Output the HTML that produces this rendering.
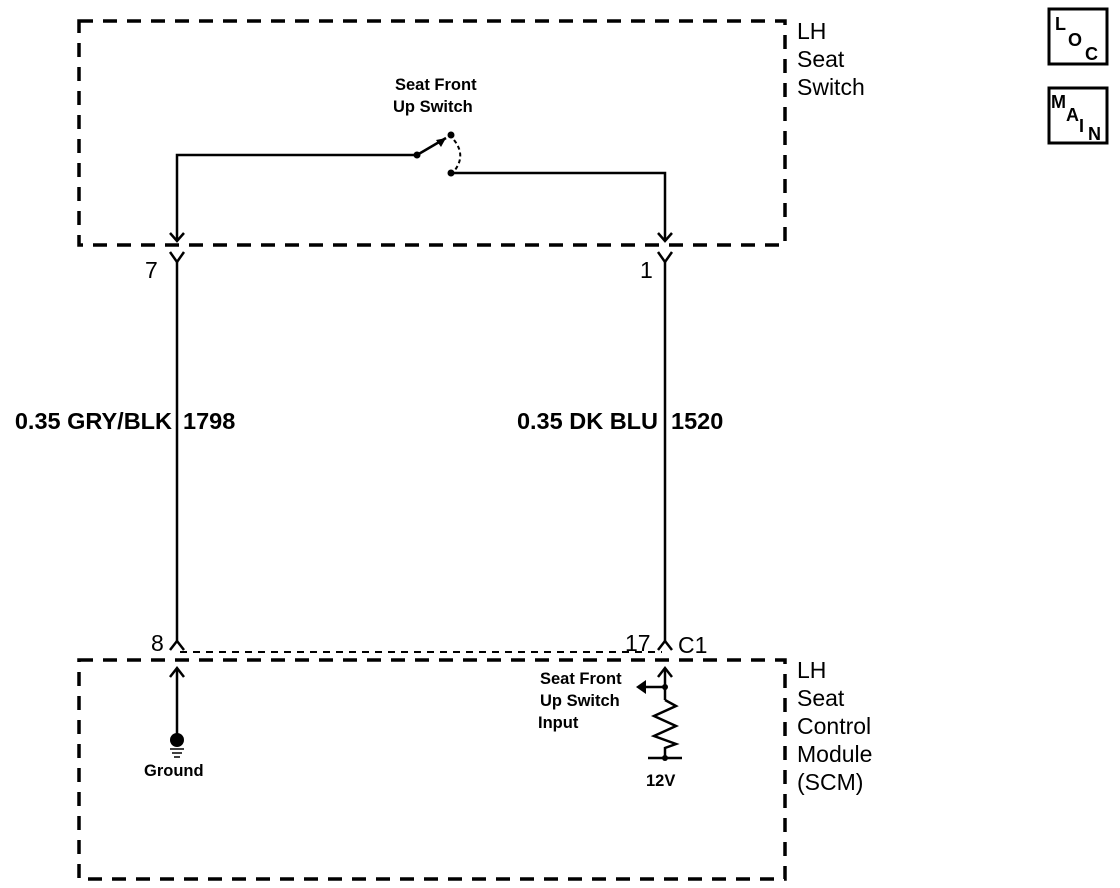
<!DOCTYPE html>
<html><head><meta charset="utf-8"><style>
html,body{margin:0;padding:0;background:#fff;}
svg{display:block;}
text{font-family:"Liberation Sans",Arial,sans-serif;fill:#000;}
</style></head><body>
<svg width="1120" height="888" viewBox="0 0 1120 888" xmlns="http://www.w3.org/2000/svg">
<g fill="none" stroke="#000">
<rect x="79" y="21" width="706" height="224" stroke-width="3.5" stroke-dasharray="14,10"/>
<rect x="79" y="660" width="706" height="219" stroke-width="3.5" stroke-dasharray="14,10"/>
<line x1="180" y1="652" x2="662" y2="652" stroke-width="2" stroke-dasharray="7,6"/>
<polyline points="177,240 177,155 417,155" stroke-width="2.5"/>
<line x1="417" y1="155" x2="446" y2="138" stroke-width="2.5"/>
<path d="M454,140 Q466,155 455,170" stroke-width="2" stroke-dasharray="4,3"/>
<polyline points="451,173 665,173 665,240" stroke-width="2.5"/>
<polyline points="170,233 177,241 184,233" stroke-width="2.5"/>
<polyline points="658,233 665,241 672,233" stroke-width="2.5"/>
<polyline points="170,252 177,262 184,252" stroke-width="2.5"/>
<polyline points="658,252 665,262 672,252" stroke-width="2.5"/>
<line x1="177" y1="262" x2="177" y2="641" stroke-width="2.5"/>
<line x1="665" y1="262" x2="665" y2="641" stroke-width="2.5"/>
<polyline points="170,650 177,641 184,650" stroke-width="2.5"/>
<polyline points="658,650 665,641 672,650" stroke-width="2.5"/>
<line x1="177" y1="668" x2="177" y2="738" stroke-width="2.5"/>
<polyline points="170,677 177,668 184,677" stroke-width="2.5"/>
<line x1="170" y1="749" x2="184" y2="749" stroke-width="1.5"/>
<line x1="172" y1="753" x2="182" y2="753" stroke-width="1.5"/>
<line x1="174" y1="757" x2="180" y2="757" stroke-width="1.5"/>
<line x1="665" y1="668" x2="665" y2="700" stroke-width="2.5"/>
<polyline points="658,677 665,668 672,677" stroke-width="2.5"/>
<line x1="645" y1="687" x2="665" y2="687" stroke-width="2.5"/>
<polyline points="665,700 676,706 654,716 676,726 654,736 676,744 665,748 665,758" stroke-width="2.5"/>
<line x1="648" y1="758" x2="682" y2="758" stroke-width="2.5"/>
</g>
<g fill="#000">
<circle cx="417" cy="155" r="3.5"/>
<circle cx="451" cy="135" r="3.5"/>
<circle cx="451" cy="173" r="3.5"/>
<polygon points="446,138 436,140 441,147"/>
<circle cx="177" cy="740" r="7"/>
<circle cx="665" cy="687" r="3"/>
<circle cx="665" cy="758" r="3"/>
<polygon points="636,687 646,680 646,694"/>
</g>
<g font-size="23">
<text x="797" y="39">LH</text>
<text x="797" y="67">Seat</text>
<text x="797" y="95">Switch</text>
<text x="797" y="678">LH</text>
<text x="797" y="706">Seat</text>
<text x="797" y="734">Control</text>
<text x="797" y="762">Module</text>
<text x="797" y="790">(SCM)</text>
<text x="172" y="429" text-anchor="end" font-weight="bold" font-size="23.5">0.35 GRY/BLK</text>
<text x="183" y="429" font-weight="bold" font-size="23.5">1798</text>
<text x="658" y="429" text-anchor="end" font-weight="bold" font-size="23.5">0.35 DK BLU</text>
<text x="671" y="429" font-weight="bold" font-size="23.5">1520</text>
<text x="145" y="278">7</text>
<text x="640" y="278">1</text>
<text x="151" y="651">8</text>
<text x="625" y="651">17</text>
<text x="678" y="653">C1</text>
</g>
<g font-size="16.5" font-weight="bold">
<text x="395" y="90">Seat Front</text>
<text x="393" y="112">Up Switch</text>
<text x="540" y="684">Seat Front</text>
<text x="540" y="706">Up Switch</text>
<text x="538" y="728">Input</text>
<text x="144" y="776">Ground</text>
<text x="646" y="786">12V</text>
</g>
<g fill="none" stroke="#000" stroke-width="3">
<rect x="1049" y="9" width="58" height="55"/>
<rect x="1049" y="88" width="58" height="55"/>
</g>
<g font-size="18" font-weight="bold">
<text x="1055" y="30">L</text>
<text x="1068" y="46">O</text>
<text x="1085" y="60">C</text>
<text x="1051" y="108">M</text>
<text x="1066" y="121">A</text>
<text x="1079" y="132">I</text>
<text x="1088" y="140">N</text>
</g>
</svg>
</body></html>
